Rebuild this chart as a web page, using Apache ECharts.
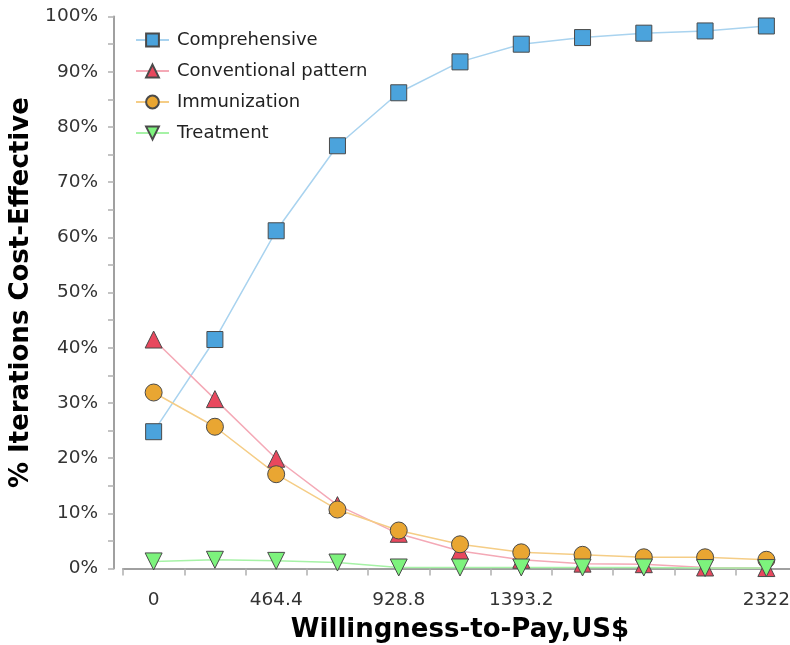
<!DOCTYPE html>
<html>
<head>
<meta charset="utf-8">
<script src="https://cdn.jsdelivr.net/npm/echarts@6/dist/echarts.min.js"></script>
<style>
  html, body { margin: 0; padding: 0; background: #fff; }
  #chart { width: 790px; height: 645px; }
</style>
</head>
<body>
<div id="chart"></div>
<script>
// Willingness-to-pay thresholds (US$)
const wtp = ['0', '232.2', '464.4', '696.6', '928.8', '1161', '1393.2', '1625.4', '1857.6', '2089.8', '2322'];
// Thresholds that carry a printed label on the x axis
const wtpLabels = ['0', '464.4', '928.8', '1393.2', '2322'];

// Share of iterations (%) in which each strategy is cost-effective
const comprehensive = [24.8, 41.5, 61.2, 76.6, 86.2, 91.8, 95.0, 96.2, 97.0, 97.4, 98.3];
const conventional  = [41.5, 30.7, 19.9, 11.5, 6.3, 3.2, 1.6, 0.9, 0.8, 0.2, 0.1];
const immunization  = [31.9, 25.7, 17.1, 10.7, 6.9, 4.4, 2.95, 2.5, 2.05, 2.05, 1.6];
const treatment     = [1.3, 1.6, 1.4, 1.1, 0.2, 0.2, 0.2, 0.2, 0.2, 0.1, 0.1];

const FONT = '"DejaVu Sans", Verdana, sans-serif';
const chart = echarts.init(document.getElementById('chart'));

function lineSeries(name, data, symbol, fill, line, size, rotate) {
  return {
    name: name,
    type: 'line',
    data: data,
    symbol: symbol,
    symbolSize: size,
    symbolRotate: rotate || 0,
    showAllSymbol: true,
    animation: false,
    lineStyle: { color: line, width: 1.5 },
    itemStyle: { color: fill, borderColor: '#4a4a4a', borderWidth: 1 },
    emphasis: { disabled: true }
  };
}

chart.setOption({
  backgroundColor: '#fff',
  animation: false,
  textStyle: { fontFamily: FONT },
  grid: {
    left: 123, right: -7, top: 16.6, bottom: 76.4,
    containLabel: false,
    outerBoundsMode: 'none'
  },
  legend: {
    orient: 'vertical',
    left: 135,
    top: 31,
    padding: 0,
    itemWidth: 33,
    itemHeight: 16,
    itemGap: 13,
    textStyle: { fontSize: 18, color: '#222', fontFamily: FONT, padding: [0, 0, 0, 3] },
    data: ['Comprehensive', 'Conventional pattern', 'Immunization', 'Treatment']
  },
  xAxis: {
    type: 'category',
    data: wtp,
    boundaryGap: true,
    offset: 10.4,
    name: 'Willingness-to-Pay,US$',
    nameLocation: 'middle',
    nameGap: 38,
    nameTextStyle: { fontSize: 26, fontWeight: 'bold', color: '#000', fontFamily: FONT },
    axisLine: { lineStyle: { color: '#a0a0a0', width: 2 } },
    axisTick: { show: true, interval: 0, length: 7, lineStyle: { color: '#b0b0b0', width: 1.5 } },
    axisLabel: {
      interval: 0,
      margin: 12,
      fontSize: 18.5,
      color: '#333',
      fontFamily: FONT,
      formatter: v => (wtpLabels.includes(v) ? v : '')
    },
    splitLine: { show: false }
  },
  yAxis: {
    type: 'value',
    min: 0,
    max: 100,
    interval: 10,
    offset: 9,
    name: '% Iterations Cost-Effective',
    nameLocation: 'middle',
    nameGap: 73,
    nameTextStyle: { fontSize: 26, fontWeight: 'bold', color: '#000', fontFamily: FONT },
    axisLine: { show: true, lineStyle: { color: '#a0a0a0', width: 2 } },
    axisTick: { show: true, length: 6, lineStyle: { color: '#b0b0b0', width: 1.5 } },
    minorTick: { show: true, splitNumber: 2, length: 6, lineStyle: { color: '#b0b0b0', width: 1.5 } },
    axisLabel: { margin: 16, fontSize: 18.5, color: '#333', fontFamily: FONT, formatter: '{value}%' },
    splitLine: { show: false }
  },
  series: [
    lineSeries('Comprehensive', comprehensive, 'rect', '#4ba3dc', '#a9d3ef', 16),
    lineSeries('Conventional pattern', conventional, 'triangle', '#e8485e', '#f4a9b6', 17),
    lineSeries('Immunization', immunization, 'circle', '#e9a632', '#f5cd86', 17),
    lineSeries('Treatment', treatment, 'triangle', '#7df37d', '#a6f2a6', 17, 180)
  ]
});
</script>
</body>
</html>
